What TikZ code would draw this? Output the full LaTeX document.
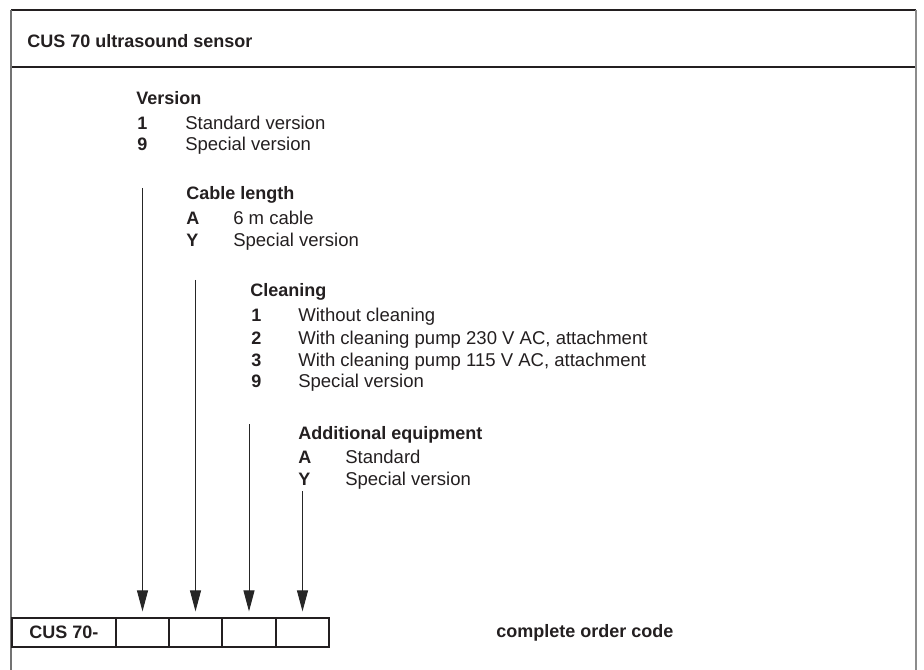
\documentclass[tikz,border=0pt]{standalone}
\usepackage{fontspec}
\setmainfont{Liberation Sans}
\usetikzlibrary{arrows.meta}
\definecolor{ink}{HTML}{231F20}
\begin{document}
\begin{tikzpicture}[x=0.75pt, y=-0.75pt]
		\tikzset{txt/.style={anchor=base west, inner sep=0pt, text=ink, font=\fontsize{13.9}{16}\selectfont},
			hd/.style={txt, font=\fontsize{13.5}{16}\selectfont\bfseries},
			bx/.style={rectangle, draw=ink, line width=0.9pt, minimum height=21.75pt, minimum width=39.75pt, inner sep=0pt},
			arr/.style={draw=black!85, line width=0.75pt, -{Triangle[length=15.75pt, width=8.25pt]}, shorten >=4.5pt}};
		\useasboundingbox (0,0) rectangle (924,670);

		% frame
		\draw[ink, line width=0.9pt] (11,10) -- (916,10);
		\draw[ink, line width=0.9pt] (11,67) -- (916,67);
		\draw[black!55, line width=1.1pt] (11,10) -- (11,670);
		\draw[black!45, line width=1.5pt] (916,10) -- (916,670);

		\node[hd] (title) at (27,48) {CUS 70 ultrasound sensor};

		% version
		\node[hd] (ver) at (136,105) {Version};
		\node[hd] (ver1) at (137,129.5) {1};
		\node[txt] (ver1t) at (185,129.5) {Standard version};
		\node[hd] (ver9) at (137,151) {9};
		\node[txt] (ver9t) at (185,151) {Special version};

		% cable length
		\node[hd] (cab) at (186,200) {Cable length};
		\node[hd] (cabA) at (186,225) {A};
		\node[txt] (cabAt) at (233,225) {6 m cable};
		\node[hd] (cabY) at (186,246.7) {Y};
		\node[txt] (cabYt) at (233,246.7) {Special version};

		% cleaning
		\node[hd] (cln) at (250,296.7) {Cleaning};
		\node[hd] (cln1) at (251,321.7) {1};
		\node[txt] (cln1t) at (298,321.7) {Without cleaning};
		\node[hd] (cln2) at (251,344) {2};
		\node[txt] (cln2t) at (298,344) {With cleaning pump 230 V AC, attachment};
		\node[hd] (cln3) at (251,366) {3};
		\node[txt] (cln3t) at (298,366) {With cleaning pump 115 V AC, attachment};
		\node[hd] (cln9) at (251,387.5) {9};
		\node[txt] (cln9t) at (298,387.5) {Special version};

		% additional equipment
		\node[hd] (add) at (298,439) {Additional equipment};
		\node[hd] (addA) at (298,463.5) {A};
		\node[txt] (addAt) at (345,463.5) {Standard};
		\node[hd] (addY) at (298,485) {Y};
		\node[txt] (addYt) at (345,485) {Special version};

		% order code boxes
		\node[bx, minimum width=78pt, font=\fontsize{13.5}{16}\selectfont\bfseries, text=ink] (cus) at (64,632.5) {CUS 70-};
		\node[bx] (b1) at (142.5,632.5) {};
		\node[bx] (b2) at (195.5,632.5) {};
		\node[bx, minimum width=40.5pt] (b3) at (249,632.5) {};
		\node[bx] (b4) at (302.5,632.5) {};
		\node[hd] (code) at (496,637) {complete order code};

		\coordinate (t1) at (142.5,188);
		\coordinate (t2) at (195.5,280);
		\coordinate (t3) at (249,424);
		\coordinate (t4) at (302.5,491);

		\draw[arr] (t1) -- (b1);
		\draw[arr] (t2) -- (b2);
		\draw[arr] (t3) -- (b3);
		\draw[arr] (t4) -- (b4);

	\end{tikzpicture}
\end{document}
